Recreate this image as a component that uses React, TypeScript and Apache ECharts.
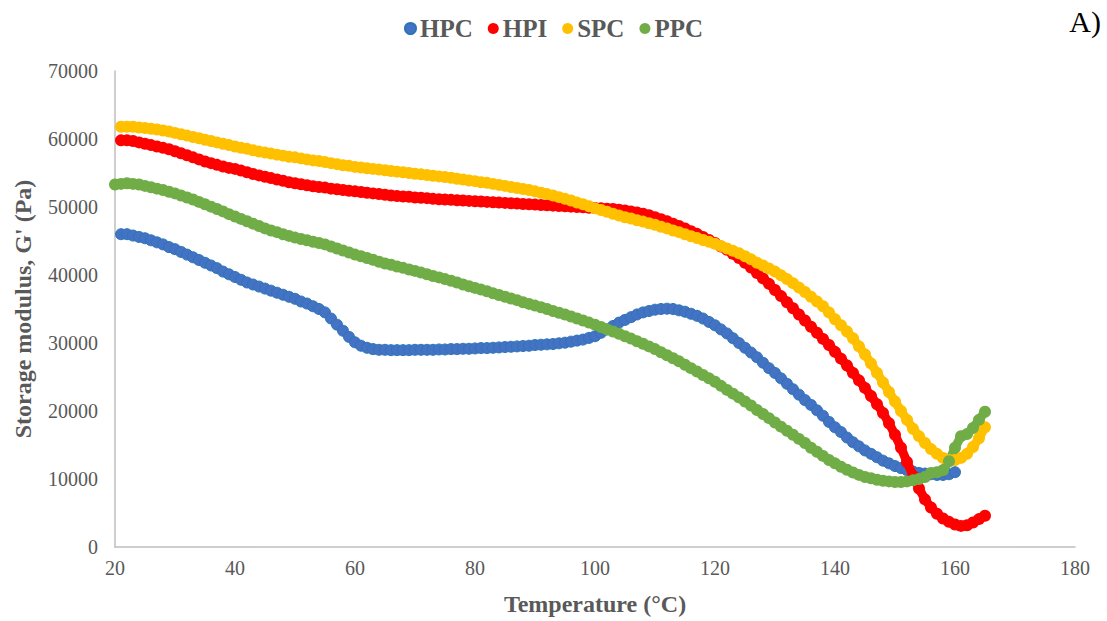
import React, { useEffect, useRef } from "react";
import * as echarts from "echarts";

const hpcTemps = [21,22,23,24,25,26,27,28,29,30,31,32,33,34,35,36,37,38,39,40,41,42,43,44,45,46,47,48,49,50,51,52,53,54,55,56,57,58,59,60,61,62,63,64,65,66,67,68,69,70,71,72,73,74,75,76,77,78,79,80,81,82,83,84,85,86,87,88,89,90,91,92,93,94,95,96,97,98,99,100,101,102,103,104,105,106,107,108,109,110,111,112,113,114,115,116,117,118,119,120,121,122,123,124,125,126,127,128,129,130,131,132,133,134,135,136,137,138,139,140,141,142,143,144,145,146,147,148,149,150,151,152,153,154,155,156,157,158,159,160];
const hpcValues = [46000,46000,45800,45600,45400,45100,44800,44500,44100,43800,43400,43000,42600,42200,41800,41400,41000,40500,40100,39700,39300,38900,38600,38300,38000,37700,37400,37100,36800,36500,36100,35800,35400,35000,34500,33600,32700,31800,30900,30100,29600,29300,29100,29000,29000,28950,28950,28950,28950,29000,29000,29000,29000,29050,29050,29100,29100,29150,29150,29200,29250,29250,29300,29350,29400,29450,29500,29550,29600,29700,29750,29800,29850,29950,30050,30200,30350,30500,30750,31000,31500,32000,32500,33000,33400,33800,34200,34500,34700,34900,35000,35050,35000,34800,34600,34300,34000,33600,33100,32600,32000,31400,30700,30000,29300,28600,27900,27100,26300,25600,24800,24000,23200,22400,21600,20900,20100,19300,18400,17600,16900,16100,15400,14800,14200,13700,13200,12700,12300,11900,11600,11300,11100,10900,10800,10700,10600,10600,10700,11000];

const hpiTemps = [21,22,23,24,25,26,27,28,29,30,31,32,33,34,35,36,37,38,39,40,41,42,43,44,45,46,47,48,49,50,51,52,53,54,55,56,57,58,59,60,61,62,63,64,65,66,67,68,69,70,71,72,73,74,75,76,77,78,79,80,81,82,83,84,85,86,87,88,89,90,91,92,93,94,95,96,97,98,99,100,101,102,103,104,105,106,107,108,109,110,111,112,113,114,115,116,117,118,119,120,121,122,123,124,125,126,127,128,129,130,131,132,133,134,135,136,137,138,139,140,141,142,143,144,145,146,147,148,149,150,151,152,153,154,155,156,157,158,159,160,161,162,163,164,165];
const hpiValues = [59800,59800,59700,59500,59300,59100,58900,58700,58500,58200,57900,57600,57300,57000,56700,56450,56200,55950,55750,55600,55350,55100,54850,54650,54450,54250,54050,53850,53650,53500,53350,53200,53050,52950,52850,52700,52600,52500,52400,52300,52200,52100,52000,51900,51800,51700,51600,51550,51500,51400,51350,51300,51200,51150,51100,51050,51000,50950,50900,50850,50800,50750,50700,50650,50600,50550,50500,50450,50400,50350,50300,50250,50200,50150,50100,50050,50000,49950,49900,49850,49800,49750,49700,49600,49500,49350,49200,49000,48800,48500,48200,47900,47550,47200,46850,46450,46050,45600,45150,44700,44200,43700,43100,42500,41800,41100,40300,39500,38700,37800,36900,36000,35100,34200,33300,32400,31500,30600,29700,28700,27700,26700,25600,24500,23400,22200,21000,19700,18200,16500,14600,12500,10500,8600,7000,5800,4900,4200,3700,3300,3100,3200,3600,4100,4600];

const spcTemps = hpiTemps;
const spcValues = [61800,61800,61800,61700,61600,61500,61400,61250,61100,60900,60700,60500,60300,60100,59900,59700,59500,59300,59100,58900,58700,58550,58350,58150,58000,57850,57700,57550,57400,57300,57150,57000,56850,56750,56600,56450,56300,56150,56050,55900,55800,55700,55600,55500,55400,55300,55200,55100,55000,54900,54800,54700,54600,54500,54400,54300,54150,54050,53900,53800,53650,53550,53400,53250,53100,52950,52800,52650,52500,52300,52100,51900,51700,51450,51200,50950,50650,50400,50100,49800,49550,49300,49000,48750,48500,48300,48050,47850,47600,47400,47100,46850,46550,46300,46000,45700,45450,45150,44900,44600,44250,43900,43550,43200,42750,42300,41800,41400,40950,40500,39950,39400,38800,38150,37500,36800,36100,35400,34500,33500,32600,31700,30700,29500,28300,27000,25600,24200,22800,21400,20000,18700,17400,16300,15300,14400,13700,13100,12800,12800,13100,13700,14700,16000,17600];

const ppcTemps = [20,21,22,23,24,25,26,27,28,29,30,31,32,33,34,35,36,37,38,39,40,41,42,43,44,45,46,47,48,49,50,51,52,53,54,55,56,57,58,59,60,61,62,63,64,65,66,67,68,69,70,71,72,73,74,75,76,77,78,79,80,81,82,83,84,85,86,87,88,89,90,91,92,93,94,95,96,97,98,99,100,101,102,103,104,105,106,107,108,109,110,111,112,113,114,115,116,117,118,119,120,121,122,123,124,125,126,127,128,129,130,131,132,133,134,135,136,137,138,139,140,141,142,143,144,145,146,147,148,149,150,151,152,153,154,155,156,157,158,159,160,161,162,163,164,165];
const ppcValues = [53300,53400,53500,53400,53300,53100,52900,52700,52500,52250,52000,51700,51400,51100,50750,50400,50050,49700,49350,48950,48600,48250,47900,47550,47200,46850,46550,46300,46000,45750,45500,45300,45100,44900,44700,44500,44200,43900,43600,43300,43000,42750,42500,42250,41950,41700,41500,41250,41050,40800,40600,40350,40100,39850,39650,39400,39150,38900,38600,38350,38100,37850,37600,37300,37050,36800,36550,36300,36000,35750,35500,35250,35000,34700,34450,34200,33900,33600,33300,33000,32700,32350,32000,31700,31350,31000,30650,30250,29900,29500,29100,28650,28200,27750,27300,26800,26300,25800,25300,24800,24300,23700,23100,22550,22000,21400,20800,20150,19550,18950,18300,17700,17100,16500,15900,15300,14600,14000,13400,12800,12300,11800,11350,10950,10600,10300,10100,9900,9750,9650,9550,9550,9650,9800,10000,10300,10900,11000,11300,12600,14600,16300,16600,17500,18700,19900];

const seriesNames = ["HPC", "HPI", "SPC", "PPC"];
const xTicks = [20, 180, 20];
const yTicks = [0, 70000, 10000];

const pairs = (t: number[], v: number[]) => t.map((x, i) => [x, v[i]]);

export default function App() {
  const ref = useRef<HTMLDivElement>(null);
  useEffect(() => {
    if (!ref.current) return;
    const chart = echarts.init(ref.current, null, { renderer: "svg" });
    const font = "Liberation Serif";
    const gray = "#595959";
    const thick = (name: string, color: string, t: number[], v: number[]) => ({
      name,
      type: "line",
      symbol: "circle",
      symbolSize: 12,
      showSymbol: true,
      showAllSymbol: true,
      lineStyle: { color, width: 9 },
      itemStyle: { color, opacity: 1 },
      data: pairs(t, v),
    });
    chart.setOption({
      animation: false,
      textStyle: { fontFamily: font },
      grid: { left: 115, right: 32, top: 71, bottom: 74, containLabel: false },
      legend: {
        top: 11,
        left: "center",
        icon: "circle",
        itemWidth: 11,
        itemHeight: 11,
        itemGap: 15,
        textStyle: { fontFamily: font, fontSize: 25, fontWeight: "bold", color: gray, padding: [0, 0, 0, -1] },
        data: seriesNames,
      },
      graphic: [
        {
          type: "text",
          right: 6,
          top: 6,
          style: { text: "A)", fontFamily: font, fontSize: 30, fill: "#000" },
        },
      ],
      xAxis: {
        type: "value",
        min: xTicks[0],
        max: xTicks[1],
        interval: xTicks[2],
        name: "Temperature (°C)",
        nameLocation: "middle",
        nameGap: 45,
        nameTextStyle: { fontFamily: font, fontSize: 24, fontWeight: "bold", color: gray },
        axisLine: { show: true, lineStyle: { color: "#BFBFBF", width: 1.5 } },
        axisTick: { show: false },
        splitLine: { show: false },
        axisLabel: { fontFamily: font, fontSize: 20, color: gray, margin: 11 },
      },
      yAxis: {
        type: "value",
        min: yTicks[0],
        max: yTicks[1],
        interval: yTicks[2],
        name: "Storage modulus, G' (Pa)",
        nameLocation: "middle",
        nameGap: 80,
        nameTextStyle: { fontFamily: font, fontSize: 24, fontWeight: "bold", color: gray },
        axisLine: { show: true, lineStyle: { color: "#BFBFBF", width: 1.5 } },
        axisTick: { show: false },
        splitLine: { show: false },
        axisLabel: { fontFamily: font, fontSize: 20, color: gray, margin: 17, formatter: (v: number) => String(v) },
      },
      series: [
        {
          name: seriesNames[0],
          type: "scatter",
          symbol: "circle",
          symbolSize: 11,
          itemStyle: { color: "#4472C4", borderColor: "#2E75B6", borderWidth: 1, opacity: 1 },
          data: pairs(hpcTemps, hpcValues),
        },
        thick(seriesNames[1], "#FF0000", hpiTemps, hpiValues),
        thick(seriesNames[2], "#FFC000", spcTemps, spcValues),
        thick(seriesNames[3], "#70AD47", ppcTemps, ppcValues),
      ],
    });
    return () => chart.dispose();
  }, []);
  return <div ref={ref} style={{ width: 1107, height: 621, position: "absolute", left: 0, top: 0 }} />;
}
